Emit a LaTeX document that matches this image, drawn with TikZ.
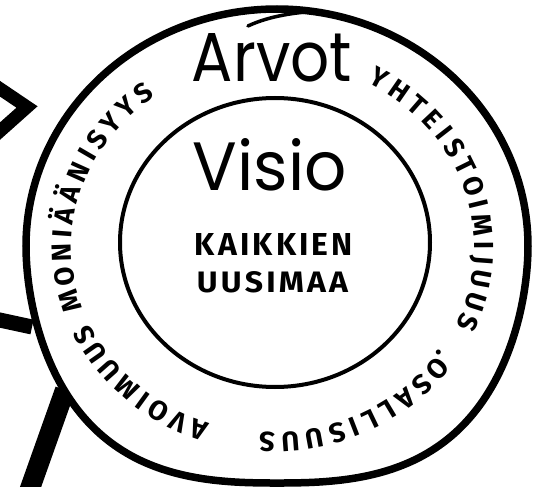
\documentclass[tikz,border=0pt]{standalone}
\usepackage{fontspec}
\usepackage{graphicx}
\newfontfamily\ringfont{Fira Sans}
\newfontfamily\handfont{Poppins}
\newfontfamily\capfont{Fira Sans}[LetterSpace=10]
\tikzset{
  ring/.style={font=\ringfont\bfseries\fontsize{27.5}{27.5}\selectfont, inner sep=0pt,
    text height=19pt, text depth=0pt, anchor=center},
  ringdot/.style={font=\ringfont\bfseries\fontsize{27.5}{27.5}\selectfont, inner sep=0pt, anchor=center},
  heavy/.style={line width=#1, line cap=butt, line join=miter},
}
% #1 name prefix, #2 first-letter centre angle, #3 deg per em, #4 list char/width
\newcommand\ringword[4]{%
  \foreach \ch/\w [count=\n] in {#4} {%
    \ifnum\n=1 \pgfmathsetmacro\tmp{#2+#3*\w/2}\xdef\rwpos{\tmp}\fi
    \pgfmathsetmacro\ta{\rwpos-#3*\w/2}%
    \pgfmathsetmacro\rot{atan2(-195*cos(\ta),211*sin(\ta))}%
    \node[ring,rotate=\rot] (#1-\n) at ({273+211*cos(\ta)},{247-195*sin(\ta)}) {\ch};
    \pgfmathsetmacro\tmp{\rwpos-#3*(\w+0.28)}%
    \xdef\rwpos{\tmp}%
  }%
}
\begin{document}
\begin{tikzpicture}[x=1pt,y=-1pt,
  declare function={ex(\t)=2/(2+0.55*max(0,sin(\t)));
    sx(\t)=cos(\t)*(abs(cos(\t))+0.0001)^(ex(\t)-1);
    sy(\t)=sin(\t)*(abs(sin(\t))+0.0001)^(ex(\t)-1);}]
\useasboundingbox (0,0) rectangle (539,487);
\fill[white] (0,0) rectangle (539,487);
\clip (0,0) rectangle (539,487);
% lines at the left
\draw[heavy=13] (-10,82) -- (27,107) -- (-10,140);
\draw[heavy=15] (-5,319) -- (32,327);
\draw[heavy=20] (27,497) -- (65,390);
% outer ring
\draw[line width=7.5, fill=white] plot[domain=0:358, samples=180, smooth, variable=\t]
  ({277+251*sx(\t)},{246+237*sy(\t)}) -- cycle;
\draw[line width=3.5, line cap=round] (248,26) .. controls (265,18) and (285,14) .. (306,12);
% inner ring
\draw[line width=4] (275,242.5) ellipse [x radius=155, y radius=144.5];
% titles
\node[inner sep=0pt] (arvot) at (272,58) {\resizebox{160pt}{48pt}{\handfont Arvot}};
\node[inner sep=0pt] (visio) at (270,165) {\resizebox{154pt}{52pt}{\handfont Visio}};
\node[inner sep=0pt] (kaikkien) at (274,244) {\resizebox{158pt}{22pt}{\capfont\bfseries KAIKKIEN}};
\node[inner sep=0pt] (uusimaa) at (272.5,282.5) {\resizebox{151pt}{21pt}{\capfont\bfseries UUSIMAA}};
% ring texts
\ringword{mon}{196.2}{7.46}{M/.80,O/.66,N/.66,I/.28,Ä/.60,Ä/.60,N/.66,I/.28,S/.54,Y/.56,Y/.56,S/.54}
\ringword{yht}{59.8}{7.43}{Y/.56,H/.66,T/.52,E/.52,I/.28,S/.54,T/.52,O/.66,I/.28,M/.80,I/.28,J/.30,U/.64,U/.64,S/.54}
\ringword{osa}{-38.6}{7.26}{O/.66,S/.54,A/.60,L/.47,L/.47,I/.28,S/.54,U/.64,U/.64,S/.54}
\ringword{avo}{-110.5}{6.94}{A/.60,V/.60,O/.66,I/.28,M/.80,U/.64,U/.64,S/.54}
\node[ringdot] (dot) at (438.5,352.5) {.};
\end{tikzpicture}
\end{document}
